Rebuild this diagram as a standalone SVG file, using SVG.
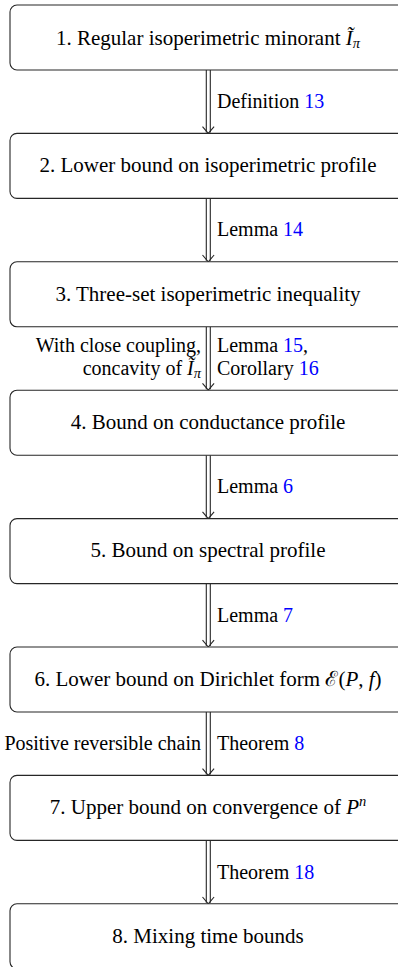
<svg xmlns="http://www.w3.org/2000/svg" width="398" height="967" viewBox="0 0 398 967">
<style>
.box{fill:#fff;stroke:#262626;stroke-width:1.1}
.t{font-family:"Liberation Serif","DejaVu Serif",serif;font-size:20px;fill:#000}
.b{font-size:21px}
.c{text-anchor:middle}
.e{text-anchor:end}
.ref{fill:#0000ff}
.m{font-style:italic}
.sub{font-size:14.5px;font-style:italic}
.ln{stroke:#262626;stroke-width:1.1;fill:none}
</style>
<defs>
<g id="arr">
<path class="ln" d="M-2 0V62.4M2 0V62.4"/>
<path class="ln" d="M-5.8 56.6L0 63.4L5.8 56.6"/>
</g>
</defs>
<g id="connectors">
<use href="#arr" x="208.3" y="70"/>
<use href="#arr" x="208.3" y="198.4"/>
<use href="#arr" x="208.3" y="326.8"/>
<use href="#arr" x="208.3" y="455.2"/>
<use href="#arr" x="208.3" y="583.6"/>
<use href="#arr" x="208.3" y="712"/>
<use href="#arr" x="208.3" y="840.4"/>
<text class="t" x="217" y="107.5">Definition <tspan class="ref">13</tspan></text>
<text class="t" x="217" y="236">Lemma <tspan class="ref">14</tspan></text>
<text class="t" x="217" y="352">Lemma <tspan class="ref">15</tspan>,</text>
<text class="t" x="217" y="375">Corollary <tspan class="ref">16</tspan></text>
<text class="t e" x="201" y="352">With close coupling,</text>
<text class="t e" x="201" y="375">concavity of <tspan class="m">Ĩ</tspan><tspan class="sub" dy="3">π</tspan></text>
<text class="t" x="217" y="493">Lemma <tspan class="ref">6</tspan></text>
<text class="t" x="217" y="621.5">Lemma <tspan class="ref">7</tspan></text>
<text class="t" x="217" y="750">Theorem <tspan class="ref">8</tspan></text>
<text class="t e" x="201" y="750">Positive reversible chain</text>
<text class="t" x="217" y="878.5">Theorem <tspan class="ref">18</tspan></text>
</g>
<g id="n1"><rect class="box" x="10" y="5" width="396" height="65" rx="7"/><text class="t b c" x="208" y="45">1. Regular isoperimetric minorant <tspan class="m">Ĩ</tspan><tspan class="sub" dy="3">π</tspan></text></g>
<g id="n2"><rect class="box" x="10" y="133.4" width="396" height="65" rx="7"/><text class="t b c" x="208" y="172">2. Lower bound on isoperimetric profile</text></g>
<g id="n3"><rect class="box" x="10" y="261.8" width="396" height="65" rx="7"/><text class="t b c" x="208" y="300.5">3. Three-set isoperimetric inequality</text></g>
<g id="n4"><rect class="box" x="10" y="390.2" width="396" height="65" rx="7"/><text class="t b c" x="208" y="429">4. Bound on conductance profile</text></g>
<g id="n5"><rect class="box" x="10" y="518.6" width="396" height="65" rx="7"/><text class="t b c" x="208" y="557">5. Bound on spectral profile</text></g>
<g id="n6"><rect class="box" x="10" y="647" width="396" height="65" rx="7"/><text class="t b c" x="208" y="686">6. Lower bound on Dirichlet form ℰ(<tspan class="m">P</tspan>, <tspan class="m">f</tspan>)</text></g>
<g id="n7"><rect class="box" x="10" y="775.4" width="396" height="65" rx="7"/><text class="t b c" x="208" y="814">7. Upper bound on convergence of <tspan class="m">P</tspan><tspan class="sub" dy="-8">n</tspan></text></g>
<g id="n8"><rect class="box" x="10" y="903.8" width="396" height="65" rx="7"/><text class="t b c" x="208" y="942.5">8. Mixing time bounds</text></g>
</svg>
